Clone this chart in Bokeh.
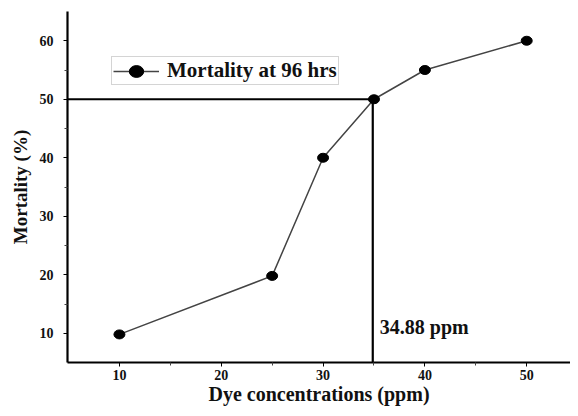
from bokeh.plotting import figure
from bokeh.models import Range1d, Legend, LegendItem, FixedTicker
from bokeh.core.properties import value
from bokeh.embed import file_html
from bokeh.resources import INLINE

# data
concentration = [10, 25, 30, 35, 40, 50]
mortality = [9.8, 19.8, 40, 50, 55, 60]
series_name = "Mortality at 96 hrs"
lc50_x = 34.88
lc50_y = 50
lc50_label = "34.88 ppm"
label_y = 11
x_ticks = [10, 20, 30, 40, 50]
x_minor = [15, 25, 35, 45]
y_ticks = [10, 20, 30, 40, 50, 60]
y_minor = [15, 25, 35, 45, 55]

FONT = "Liberation Serif"

p = figure(width=570, height=408, output_backend="svg", toolbar_location=None,
           x_range=Range1d(4.9, 54.3), y_range=Range1d(5, 65),
           min_border_left=67, min_border_right=0, min_border_top=11, min_border_bottom=46)
p.outline_line_color = None
p.xgrid.visible = False
p.ygrid.visible = False
p.background_fill_color = "white"

# reference lines
p.line([p.x_range.start, lc50_x], [lc50_y, lc50_y], line_color="black", line_width=2.2)
p.line([lc50_x, lc50_x], [p.y_range.start, lc50_y], line_color="black", line_width=2.2)

ln = p.line(concentration, mortality, line_color="#444444", line_width=1.5)
mk = p.ellipse(concentration, mortality, width=11, height=9, width_units="screen",
               height_units="screen", fill_color="black", line_color="black")

p.text(x=[lc50_x], y=[label_y], text=[lc50_label], x_offset=7, text_baseline="middle",
       text_font=value(FONT), text_font_style="bold", text_font_size="20px", text_color="#111111")

legend = Legend(items=[LegendItem(label=series_name, renderers=[ln, mk])],
                location=(44, 277), orientation="vertical")
legend.label_text_font = FONT
legend.label_text_font_style = "bold"
legend.label_text_font_size = "21px"
legend.label_text_color = "#111111"
legend.glyph_width = 46
legend.glyph_height = 18
legend.label_height = 18
legend.padding = 1
legend.margin = 0
legend.label_standoff = 8
legend.border_line_color = "#aaaaaa"
legend.border_line_width = 1.5
legend.background_fill_alpha = 1
p.add_layout(legend)

for ax in (p.xaxis[0], p.yaxis[0]):
    ax.axis_line_width = 2.2
    ax.axis_line_color = "black"
    ax.major_tick_line_color = "black"
    ax.minor_tick_line_color = "#444444"
    ax.major_tick_out = 4
    ax.major_tick_in = 0
    ax.minor_tick_out = 3
    ax.minor_tick_in = 0
    ax.major_label_text_font = FONT
    ax.major_label_text_font_style = "bold"
    ax.major_label_text_font_size = "14px"
    ax.major_label_text_color = "#111111"
    ax.axis_label_text_font = FONT
    ax.axis_label_text_font_style = "bold"
    ax.axis_label_text_font_size = "20px"
    ax.axis_label_text_color = "#111111"

p.yaxis[0].axis_label_text_font_size = "19px"
p.xaxis[0].ticker = FixedTicker(ticks=x_ticks, minor_ticks=x_minor)
p.yaxis[0].ticker = FixedTicker(ticks=y_ticks, minor_ticks=y_minor)
p.xaxis[0].axis_label = "Dye concentrations (ppm)"
p.yaxis[0].axis_label = "Mortality (%)"
p.xaxis[0].major_label_standoff = 3
p.yaxis[0].major_label_standoff = 10
p.xaxis[0].axis_label_standoff = 0
p.yaxis[0].axis_label_standoff = 6

open("out.html", "w").write(file_html(p, INLINE))
